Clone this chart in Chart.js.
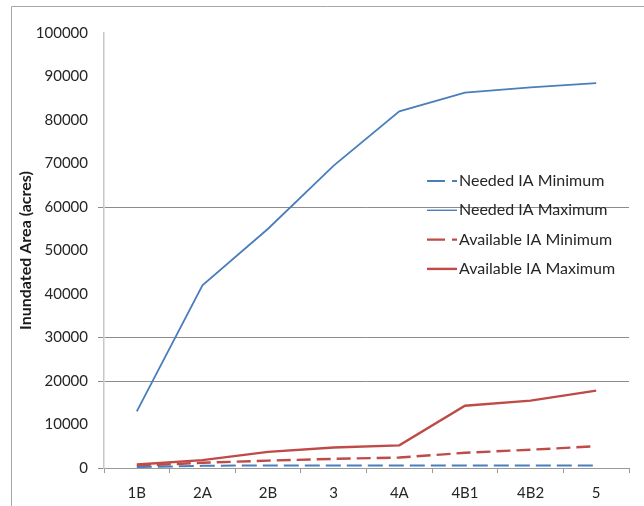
<!DOCTYPE html>
<html>
<head>
<meta charset="utf-8">
<script src="https://cdn.jsdelivr.net/npm/chart.js@4"></script>
<style>
  html, body { margin: 0; padding: 0; background: #fff; }
  #wrap { width: 644px; height: 506px; position: relative; }
</style>
</head>
<body>
<div id="wrap"><canvas id="iaChart" width="644" height="506"></canvas></div>
<script>
// chart data
const stages = ["1B", "2A", "2B", "3", "4A", "4B1", "4B2", "5"];
const neededMin = [200, 500, 600, 600, 600, 600, 600, 600];
const neededMax = [13000, 42000, 55000, 69500, 82000, 86300, 87500, 88500];
const availableMin = [500, 1200, 1700, 2100, 2400, 3500, 4200, 5000];
const availableMax = [800, 1800, 3700, 4700, 5200, 14300, 15500, 17800];
const shownGridValues = [20000, 30000, 60000];

const blue = "#4a7ebb";
const red = "#be4b48";
const fontFamily = "Lato, 'Liberation Sans', sans-serif";

// outer frame, top and left edges only
const framePlugin = {
    id: "frame",
    beforeDraw(chart) {
        const ctx = chart.ctx;
        ctx.save();
        ctx.strokeStyle = "#a6a6a6";
        ctx.lineWidth = 1;
        ctx.beginPath();
        ctx.moveTo(11.5, 506);
        ctx.lineTo(11.5, 6.5);
        ctx.lineTo(644, 6.5);
        ctx.stroke();
        ctx.restore();
    }
};

// legend drawn inside the plot area
const insideLegend = {
    id: "insideLegend",
    afterDraw(chart) {
        const ctx = chart.ctx;
        const x0 = 427;
        let y = 181;
        ctx.save();
        ctx.font = "16px " + fontFamily;
        ctx.textBaseline = "middle";
        ctx.fillStyle = "#262626";
        chart.data.datasets.forEach(ds => {
            ctx.strokeStyle = ds.borderColor;
            ctx.lineWidth = ds.borderDash.length ? ds.borderWidth : Math.min(ds.borderWidth, 1.4);
            if (ds.label === "Available IA Maximum") ctx.lineWidth = ds.borderWidth;
            ctx.setLineDash(ds.borderDash.length ? [18, 7] : []);
            ctx.beginPath();
            ctx.moveTo(x0, y);
            ctx.lineTo(x0 + 30, y);
            ctx.stroke();
            ctx.fillText(ds.label, x0 + 32, y);
            y += 29.3;
        });
        ctx.restore();
    }
};

const ctx = document.getElementById("iaChart").getContext("2d");
new Chart(ctx, {
    type: "line",
    data: {
        labels: stages,
        datasets: [
            { label: "Needed IA Minimum", data: neededMin, borderColor: blue, borderWidth: 2, borderDash: [15, 6] },
            { label: "Needed IA Maximum", data: neededMax, borderColor: blue, borderWidth: 1.8, borderDash: [] },
            { label: "Available IA Minimum", data: availableMin, borderColor: red, borderWidth: 2.4, borderDash: [14, 6] },
            { label: "Available IA Maximum", data: availableMax, borderColor: red, borderWidth: 2.4, borderDash: [] }
        ]
    },
    options: {
        responsive: false,
        animation: false,
        devicePixelRatio: 1,
        layout: { padding: { top: 33, right: 15, left: 0, bottom: 0 } },
        elements: {
            point: { radius: 0, hoverRadius: 0 },
            line: { tension: 0, fill: false }
        },
        plugins: {
            legend: { display: false },
            tooltip: { enabled: false }
        },
        scales: {
            x: {
                offset: true,
                grid: {
                    offset: true,
                    drawOnChartArea: false,
                    tickLength: 5,
                    tickColor: "#9a9a9a"
                },
                border: { color: "#9a9a9a", width: 1 },
                ticks: {
                    color: "#262626",
                    padding: 11,
                    autoSkip: false,
                    maxRotation: 0,
                    font: { family: fontFamily, size: 15 }
                },
                afterFit(scale) { scale.height = 38; }
            },
            y: {
                min: 0,
                max: 100000,
                ticks: {
                    stepSize: 10000,
                    color: "#262626",
                    padding: 10,
                    callback: v => String(v),
                    font: { family: fontFamily, size: 15 }
                },
                grid: {
                    tickLength: 6,
                    color: c => shownGridValues.includes(c.tick.value) ? "#8c8c8c" : "rgba(0,0,0,0)",
                    tickColor: c => (c.tick.value === 0 || shownGridValues.includes(c.tick.value)) ? "#8c8c8c" : "rgba(0,0,0,0)"
                },
                border: { color: "#c8c8c8", width: 1.5 },
                title: {
                    display: true,
                    text: "Inundated Area (acres)",
                    color: "#1a1a1a",
                    padding: { top: 16, bottom: 0 },
                    font: { family: fontFamily, size: 16, weight: "bold" }
                },
                afterFit(scale) { scale.width = 104; }
            }
        }
    },
    plugins: [framePlugin, insideLegend]
});
</script>
</body>
</html>
